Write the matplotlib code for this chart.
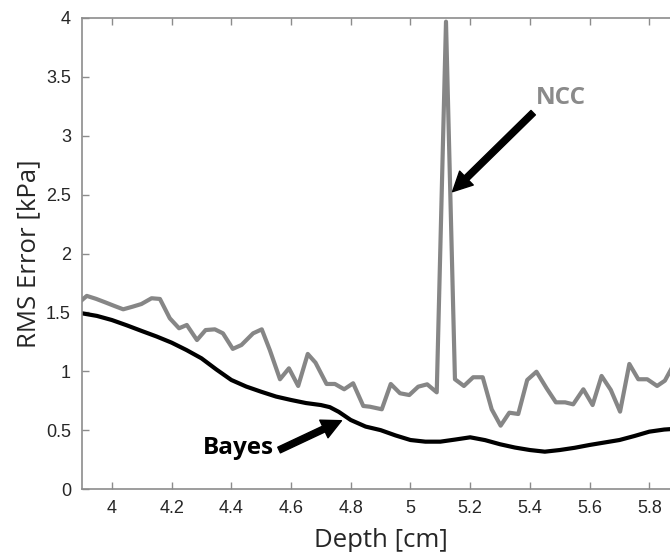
import matplotlib
matplotlib.use("Agg")
import matplotlib.pyplot as plt

# ---- data ----
depth_ncc = [3.900, 3.916, 3.947, 3.978, 4.008, 4.038, 4.069, 4.099, 4.133, 4.161,
             4.194, 4.225, 4.251, 4.285, 4.314, 4.345, 4.372, 4.405, 4.434, 4.473,
             4.502, 4.529, 4.563, 4.593, 4.624, 4.656, 4.682, 4.719, 4.747, 4.778,
             4.808, 4.842, 4.864, 4.904, 4.934, 4.965, 4.996, 5.026, 5.056, 5.088,
             5.119, 5.149, 5.179, 5.210, 5.242, 5.272, 5.302, 5.331, 5.361, 5.391,
             5.422, 5.456, 5.487, 5.518, 5.545, 5.579, 5.610, 5.640, 5.671, 5.702,
             5.733, 5.763, 5.793, 5.826, 5.852, 5.880]
rms_ncc = [1.605, 1.640, 1.615, 1.585, 1.555, 1.526, 1.548, 1.571, 1.620, 1.614,
           1.450, 1.365, 1.393, 1.265, 1.350, 1.356, 1.322, 1.190, 1.223, 1.322,
           1.356, 1.180, 0.932, 1.025, 0.875, 1.147, 1.073, 0.892, 0.892, 0.847,
           0.898, 0.705, 0.699, 0.677, 0.892, 0.813, 0.798, 0.869, 0.889, 0.821,
           3.969, 0.932, 0.875, 0.949, 0.949, 0.677, 0.538, 0.648, 0.637, 0.926,
           0.996, 0.855, 0.736, 0.736, 0.719, 0.847, 0.713, 0.960, 0.841, 0.657,
           1.062, 0.932, 0.932, 0.875, 0.920, 1.050]

depth_bayes = [3.90, 3.95, 4.00, 4.05, 4.10, 4.15, 4.20, 4.25, 4.30, 4.35,
               4.40, 4.45, 4.50, 4.55, 4.60, 4.65, 4.70, 4.73, 4.76, 4.80,
               4.85, 4.90, 4.95, 5.00, 5.05, 5.10, 5.15, 5.20, 5.25, 5.30,
               5.35, 5.40, 5.45, 5.50, 5.55, 5.60, 5.65, 5.70, 5.75, 5.80,
               5.85, 5.88]
rms_bayes = [1.492, 1.470, 1.435, 1.390, 1.342, 1.295, 1.243, 1.180, 1.110, 1.015,
             0.926, 0.870, 0.826, 0.785, 0.756, 0.730, 0.713, 0.695, 0.655, 0.586,
             0.530, 0.500, 0.455, 0.416, 0.402, 0.402, 0.420, 0.439, 0.415, 0.380,
             0.352, 0.331, 0.317, 0.331, 0.350, 0.374, 0.395, 0.416, 0.450, 0.487,
             0.505, 0.510]

xticks = [4, 4.2, 4.4, 4.6, 4.8, 5, 5.2, 5.4, 5.6, 5.8]
xticklabels = ["4", "4.2", "4.4", "4.6", "4.8", "5", "5.2", "5.4", "5.6", "5.8"]
yticks = [0, 0.5, 1, 1.5, 2, 2.5, 3, 3.5, 4]
yticklabels = ["0", "0.5", "1", "1.5", "2", "2.5", "3", "3.5", "4"]

fig = plt.figure(figsize=(6.70, 5.52), dpi=100)
ax = fig.add_axes([82 / 670, 63 / 552, (679.2 - 82) / 670, 471 / 552])

ax.plot(depth_ncc, rms_ncc, color="#868686", lw=3.0)
ax.plot(depth_bayes, rms_bayes, color="black", lw=3.0)

ax.set_xlim(3.9, 5.9)
ax.set_ylim(0, 4)
ax.set_xticks(xticks)
ax.set_xticklabels(xticklabels)
ax.set_yticks(yticks)
ax.set_yticklabels(yticklabels)

for s in ax.spines.values():
    s.set_color("#8c8c8c")
    s.set_linewidth(1.2)
ax.tick_params(direction="in", length=5, width=1, color="#8c8c8c",
               top=True, right=False, labelsize=13, labelcolor="#262626", pad=8)
for lab in ax.get_xticklabels() + ax.get_yticklabels():
    lab.set_fontfamily(["Liberation Sans", "DejaVu Sans"])

ax.set_xlabel("Depth [cm]", fontsize=18.5, family=["Open Sans", "DejaVu Sans"],
              color="#262626", labelpad=8)
ax.set_ylabel("RMS Error [kPa]", fontsize=18.5, family=["Open Sans", "DejaVu Sans"],
              color="#262626", labelpad=3)

ax.annotate("", xy=(5.141, 2.525), xytext=(5.411, 3.196),
            arrowprops=dict(facecolor="black", edgecolor="black", width=4.5,
                            headwidth=14, headlength=14, shrink=0))
ax.text(5.504, 3.32, "NCC", fontsize=17.5, fontweight="bold", color="#8a8a8a",
        family=["Open Sans", "DejaVu Sans"], ha="center", va="center")

ax.annotate("", xy=(4.769, 0.58), xytext=(4.560, 0.331),
            arrowprops=dict(facecolor="black", edgecolor="black", width=4.5,
                            headwidth=14, headlength=14, shrink=0))
ax.text(4.425, 0.348, "Bayes", fontsize=17.5, fontweight="bold", color="black",
        family=["Open Sans", "DejaVu Sans"], ha="center", va="center")

fig.savefig("out.png", dpi=100)
